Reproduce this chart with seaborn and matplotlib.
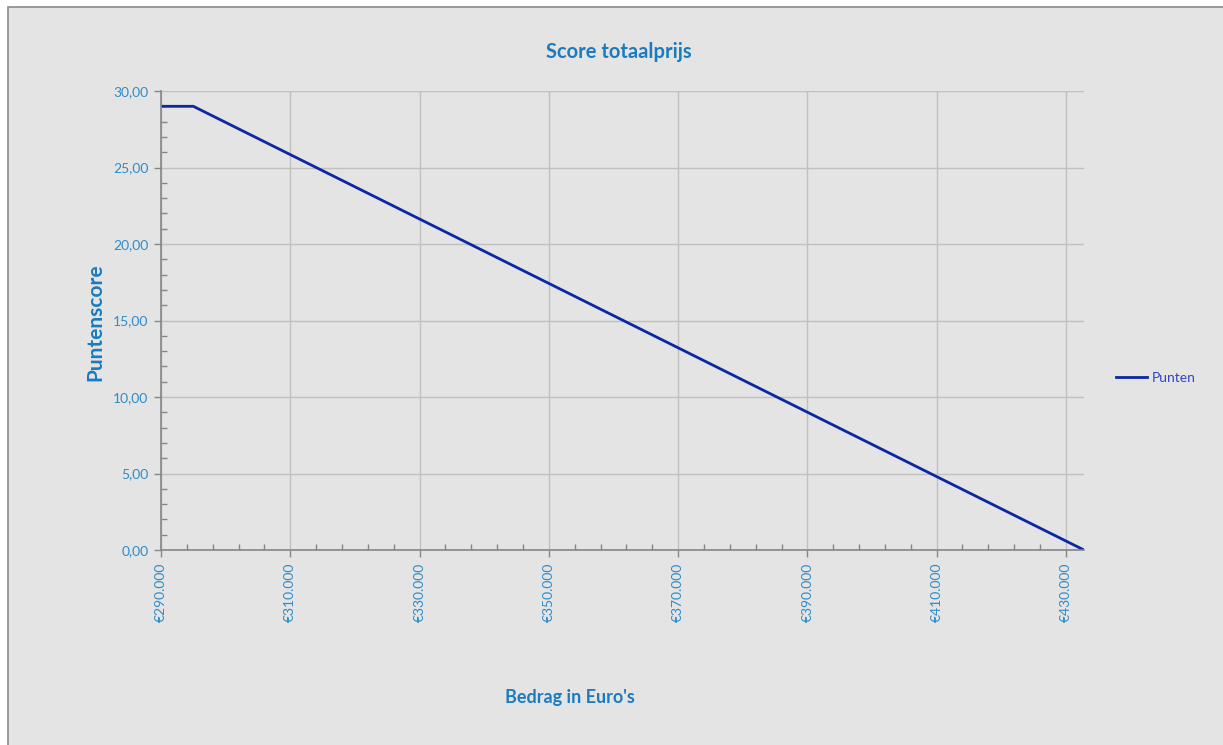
import matplotlib
matplotlib.use("Agg")
import matplotlib.pyplot as plt
import matplotlib.ticker as mticker
from matplotlib.patches import Rectangle
from matplotlib.lines import Line2D
import seaborn as sns
import pandas as pd
import numpy as np

# Data
bedrag = [290000, 295000, 432800]
punten = [29.0, 29.0, 0.0]
series_name = "Punten"
title = "Score totaalprijs"
xlabel = "Bedrag in Euro's"
ylabel = "Puntenscore"

df = pd.DataFrame({"Bedrag": bedrag, "Punten": punten, "Reeks": series_name})

plt.rcParams['font.family'] = ['Lato', 'DejaVu Sans']

W, H = 1223, 745
fig = plt.figure(figsize=(W / 100, H / 100), dpi=100, facecolor="white")
# outer chart area
fig.patches.append(Rectangle((7.5 / W, -0.1), 1.2, 1.1 - 7.5 / H, transform=fig.transFigure,
                             facecolor="#e4e4e4", edgecolor="#8a8a8a", linewidth=1.2, zorder=-10))

ax = fig.add_axes([161 / W, (H - 550) / H, 923 / W, 459 / H])
ax.set_facecolor("#e4e4e4")
ax.set_zorder(1)

sns.lineplot(data=df, x="Bedrag", y="Punten", hue="Reeks", palette=["#0b27a3"],
             linewidth=2.0, ax=ax, legend=False)

ax.set_xlim(290000, 432800)
ax.set_ylim(0, 30)
ax.xaxis.set_major_locator(mticker.FixedLocator(np.arange(290000, 433000, 20000)))
ax.xaxis.set_minor_locator(mticker.FixedLocator(np.arange(290000, 433000, 4000)))
ax.yaxis.set_major_locator(mticker.MultipleLocator(5))
ax.yaxis.set_minor_locator(mticker.MultipleLocator(1))

ax.xaxis.set_major_formatter(mticker.FuncFormatter(lambda v, p: "€" + f"{int(v):,}".replace(",", ".")))
ax.yaxis.set_major_formatter(mticker.FuncFormatter(lambda v, p: f"{v:.2f}".replace(".", ",")))

tick_col = "#2f8cc8"
ax.tick_params(axis="x", which="major", direction="out", length=5, width=1, color="#868686",
               labelcolor=tick_col, labelsize=10, labelrotation=90, pad=4)
ax.tick_params(axis="y", which="major", direction="out", length=5, width=1, color="#868686",
               labelcolor=tick_col, labelsize=10, pad=4)
ax.tick_params(which="minor", direction="in", length=4, width=1, color="#868686")

ax.grid(True, which="major", color="#c0c0c0", linewidth=1.0)
ax.set_axisbelow(True)
for s in ["top", "right"]:
    ax.spines[s].set_visible(False)
for s in ["left", "bottom"]:
    ax.spines[s].set_color("#868686")
    ax.spines[s].set_linewidth(1.2)
ax.spines["bottom"].set_zorder(3)

ax.set_xlabel("")
ax.set_ylabel("")
lab_col = "#1a7bbf"
fig.text(619 / W, 1 - 52 / H, title, ha="center", va="center", fontsize=14.5,
         fontweight="bold", color=lab_col)
fig.text(570 / W, 1 - 698 / H, xlabel, ha="center", va="center", fontsize=13,
         fontweight="bold", color=lab_col)
fig.text(95 / W, 1 - 322 / H, ylabel, ha="center", va="center", fontsize=15,
         fontweight="bold", color=lab_col, rotation=90)

# legend
h = Line2D([0], [0], color="#0b27a3", linewidth=2.0)
leg = fig.legend([h], [series_name], loc="center left", bbox_to_anchor=(1103 / W, 1 - 378 / H),
                 frameon=False, fontsize=10, handlelength=2.3, handletextpad=0.3)
for t in leg.get_texts():
    t.set_color("#2d46c8")

fig.savefig("out.png", dpi=100, facecolor="white")
